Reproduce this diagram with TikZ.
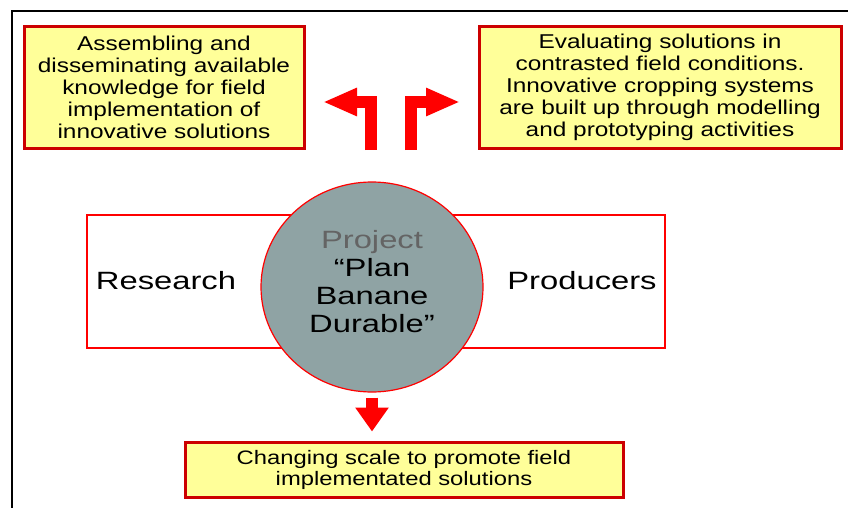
\documentclass[tikz,border=0pt]{standalone}
\usepackage{fontspec}
\setmainfont{Liberation Sans}[FakeStretch=1.22]
\newfontfamily\widesans{Liberation Sans}[FakeStretch=1.31]
\usepackage{tikz}
\usetikzlibrary{arrows.meta,positioning,shapes.geometric}
\definecolor{boxfill}{RGB}{255,255,153}
\definecolor{boxedge}{RGB}{204,0,0}
\definecolor{hubfill}{RGB}{143,163,164}
\definecolor{hubtext}{RGB}{100,100,100}

\begin{document}
\begin{tikzpicture}[x=1pt,y=-1pt,
    goal/.style={draw=boxedge,line width=3pt,fill=boxfill,inner sep=0pt,align=center,
      font=\fontsize{20}{22}\selectfont},
    actor/.style={font=\widesans\fontsize{25}{28}\selectfont},
    fat/.style={draw=red,line width=12pt},
    every node/.style={text=black}]
  \useasboundingbox (0,0) rectangle (848,508);
  \draw[line width=2.5pt] (848,11) -- (12,11) -- (12,508);
  % the two goal boxes on top
  \node (assemble) [goal,minimum width=280pt,minimum height=121pt] at (164,87.5)
    {Assembling and\\disseminating available\\knowledge for field\\implementation of\\innovative solutions};
  \node (evaluate) [goal,minimum width=362pt,minimum height=121pt] at (660,87.5)
    {Evaluating solutions in\\contrasted field conditions.\\Innovative cropping systems\\are built up through modelling\\and prototyping activities};
  % partners and the project in the middle
  \node (partners) [draw=red,line width=2pt,minimum width=578pt,minimum height=133pt] at (376,281.5) {};
  \node (research) [actor] at (166,281) {Research};
  \node (producers) [actor] at (582,281) {Producers};
  \node (project) [ellipse,draw=red,line width=1.2pt,fill=hubfill,minimum width=222pt,minimum height=210pt] at (372,287) {};
  \node (title) [actor,align=center] at (372,282)
    {\textcolor{hubtext}{Project}\\“Plan\\Banane\\Durable”};
  \node (change) [goal,minimum width=438pt,minimum height=55pt,font=\fontsize{19.5}{21}\selectfont] at (404,469.5)
    {Changing scale to promote field\\implementated solutions};
  % arrows
  \coordinate (lfoot) at (371,150);
  \coordinate (ltip) at (323,102);
  \coordinate (rfoot) at (411,150);
  \coordinate (rtip) at (460,102);
  \draw[fat,-{Triangle[length=34pt,width=26pt]}] (lfoot) |- (ltip);
  \draw[fat,-{Triangle[length=34pt,width=26pt]}] (rfoot) |- (rtip);
  \draw[fat,-{Triangle[length=24pt,width=32pt]}] ([yshift=-5pt]project.south) -- ([yshift=9pt]project.south |- change.north);
\end{tikzpicture}
\end{document}
